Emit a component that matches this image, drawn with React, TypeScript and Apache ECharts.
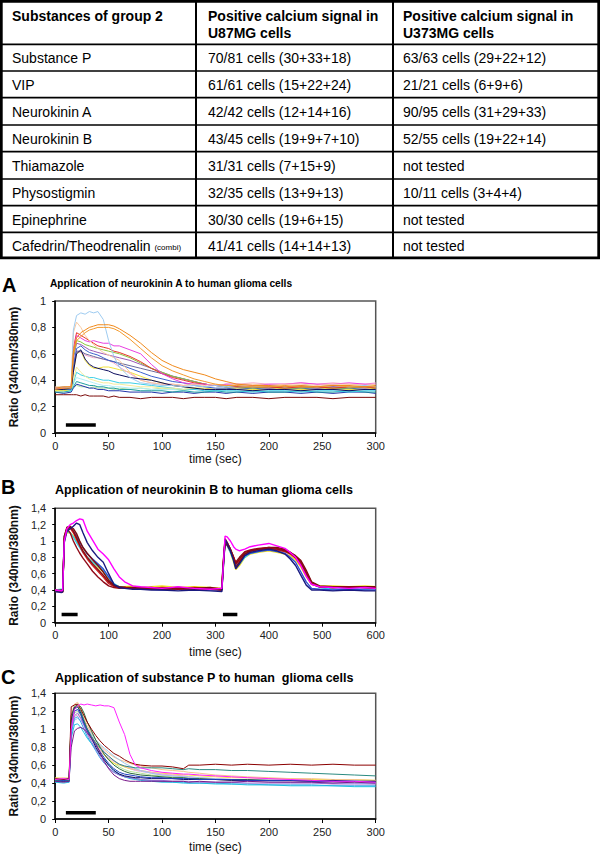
import React, { useEffect, useRef } from "react";
import * as echarts from "echarts";

const FONT = '"Liberation Sans", Arial, Helvetica, sans-serif';

// ---------- Table data ----------
const TABLE_HEAD_1 = ["Substances of group 2", "Positive calcium signal in", "Positive calcium signal in"];
const TABLE_HEAD_2 = ["", "U87MG cells", "U373MG cells"];
const SUBSTANCES = ["Substance P", "VIP", "Neurokinin A", "Neurokinin B", "Thiamazole", "Physostigmin", "Epinephrine", "Cafedrin/Theodrenalin"];
const SUBSTANCE_NOTE = ["", "", "", "", "", "", "", "(combi)"];
const U87MG = ["70/81 cells (30+33+18)", "61/61 cells (15+22+24)", "42/42 cells (12+14+16)", "43/45 cells (19+9+7+10)", "31/31 cells (7+15+9)", "32/35 cells (13+9+13)", "30/30 cells (19+6+15)", "41/41 cells (14+14+13)"];
const U373MG = ["63/63 cells (29+22+12)", "21/21 cells (6+9+6)", "90/95 cells (31+29+33)", "52/55 cells (19+22+14)", "not tested", "10/11 cells (3+4+4)", "not tested", "not tested"];

// ---------- Panel titles ----------
const PANEL_LETTERS = ["A", "B", "C"];
const PANEL_TITLES = [
  "Application of neurokinin A to human glioma cells",
  "Application of neurokinin B to human glioma cells",
  "Application of substance P to human  glioma cells",
];
const X_NAME = "time (sec)";
const Y_NAME = "Ratio (340nm/380nm)";

// ---------- Panel A: neurokinin A ----------
const TIME_A = [0, 8, 15, 17, 20, 24, 28, 32, 36, 40, 45, 50, 55, 60, 70, 80, 90, 100, 110, 120, 130, 140, 150, 160, 170, 185, 200, 215, 230, 245, 260, 275, 290, 300];
const A_LIGHTBLUE = [0.34, 0.35, 0.34, 0.78, 0.89, 0.91, 0.90, 0.92, 0.91, 0.92, 0.86, 0.70, 0.58, 0.50, 0.42, 0.38, 0.37, 0.36, 0.36, 0.35, 0.36, 0.35, 0.36, 0.35, 0.36, 0.35, 0.36, 0.35, 0.36, 0.35, 0.36, 0.35, 0.36, 0.35];
const A_ORANGE1 = [0.34, 0.35, 0.35, 0.62, 0.72, 0.76, 0.78, 0.80, 0.81, 0.82, 0.82, 0.82, 0.81, 0.79, 0.74, 0.68, 0.61, 0.55, 0.51, 0.48, 0.46, 0.44, 0.41, 0.39, 0.37, 0.36, 0.36, 0.35, 0.36, 0.35, 0.36, 0.36, 0.35, 0.36];
const A_ORANGE2 = [0.33, 0.34, 0.34, 0.60, 0.70, 0.73, 0.76, 0.78, 0.79, 0.80, 0.80, 0.80, 0.79, 0.77, 0.71, 0.64, 0.57, 0.51, 0.47, 0.44, 0.41, 0.39, 0.37, 0.36, 0.36, 0.35, 0.35, 0.36, 0.35, 0.35, 0.36, 0.35, 0.35, 0.35];
const A_PEACH = [0.35, 0.35, 0.35, 0.76, 0.84, 0.80, 0.74, 0.70, 0.67, 0.64, 0.61, 0.59, 0.57, 0.55, 0.46, 0.40, 0.38, 0.37, 0.37, 0.36, 0.37, 0.36, 0.37, 0.36, 0.37, 0.37, 0.36, 0.37, 0.37, 0.36, 0.37, 0.37, 0.36, 0.37];
const A_MAGENTA = [0.34, 0.34, 0.35, 0.62, 0.74, 0.72, 0.70, 0.69, 0.70, 0.69, 0.68, 0.68, 0.66, 0.66, 0.63, 0.60, 0.52, 0.45, 0.41, 0.38, 0.37, 0.37, 0.36, 0.37, 0.37, 0.36, 0.37, 0.37, 0.38, 0.37, 0.37, 0.38, 0.37, 0.37];
const A_RED = [0.34, 0.34, 0.35, 0.64, 0.76, 0.74, 0.72, 0.70, 0.68, 0.66, 0.65, 0.64, 0.62, 0.61, 0.58, 0.54, 0.49, 0.45, 0.42, 0.40, 0.38, 0.37, 0.36, 0.36, 0.35, 0.35, 0.35, 0.34, 0.35, 0.35, 0.34, 0.35, 0.35, 0.34];
const A_GREEN = [0.33, 0.33, 0.34, 0.58, 0.70, 0.69, 0.67, 0.66, 0.65, 0.64, 0.63, 0.62, 0.61, 0.60, 0.57, 0.53, 0.49, 0.46, 0.43, 0.41, 0.39, 0.37, 0.36, 0.35, 0.35, 0.34, 0.35, 0.34, 0.34, 0.35, 0.34, 0.34, 0.35, 0.34];
const A_VIOLET = [0.33, 0.34, 0.34, 0.56, 0.68, 0.67, 0.65, 0.63, 0.62, 0.61, 0.60, 0.59, 0.58, 0.57, 0.55, 0.52, 0.49, 0.46, 0.43, 0.41, 0.39, 0.37, 0.36, 0.35, 0.35, 0.35, 0.34, 0.35, 0.35, 0.34, 0.35, 0.35, 0.34, 0.35];
const A_BLUE = [0.33, 0.33, 0.33, 0.50, 0.64, 0.66, 0.63, 0.61, 0.60, 0.59, 0.57, 0.55, 0.54, 0.52, 0.49, 0.46, 0.43, 0.41, 0.39, 0.38, 0.36, 0.35, 0.34, 0.34, 0.33, 0.34, 0.33, 0.33, 0.34, 0.33, 0.33, 0.34, 0.33, 0.33];
const A_SLATE = [0.33, 0.33, 0.34, 0.50, 0.62, 0.62, 0.60, 0.59, 0.58, 0.57, 0.56, 0.55, 0.54, 0.53, 0.51, 0.49, 0.47, 0.45, 0.43, 0.41, 0.39, 0.37, 0.36, 0.35, 0.35, 0.35, 0.34, 0.35, 0.35, 0.34, 0.35, 0.34, 0.35, 0.35];
const A_PINK = [0.34, 0.35, 0.35, 0.52, 0.62, 0.61, 0.59, 0.58, 0.57, 0.57, 0.56, 0.55, 0.53, 0.50, 0.45, 0.40, 0.38, 0.37, 0.37, 0.36, 0.37, 0.37, 0.36, 0.37, 0.37, 0.38, 0.37, 0.37, 0.38, 0.37, 0.38, 0.37, 0.37, 0.38];
const A_YELLOW = [0.32, 0.32, 0.33, 0.46, 0.60, 0.62, 0.55, 0.51, 0.49, 0.49, 0.50, 0.50, 0.49, 0.48, 0.46, 0.43, 0.40, 0.38, 0.36, 0.35, 0.34, 0.34, 0.33, 0.33, 0.34, 0.33, 0.33, 0.34, 0.33, 0.33, 0.34, 0.33, 0.33, 0.34];
const A_NAVY = [0.33, 0.33, 0.34, 0.46, 0.60, 0.63, 0.56, 0.52, 0.50, 0.49, 0.48, 0.47, 0.45, 0.44, 0.42, 0.41, 0.40, 0.38, 0.36, 0.35, 0.34, 0.33, 0.33, 0.33, 0.33, 0.32, 0.33, 0.33, 0.32, 0.33, 0.33, 0.32, 0.33, 0.33];
const A_LIGHTYELLOW = [0.32, 0.33, 0.33, 0.40, 0.50, 0.46, 0.43, 0.41, 0.40, 0.39, 0.38, 0.38, 0.37, 0.37, 0.36, 0.35, 0.35, 0.34, 0.34, 0.33, 0.34, 0.33, 0.33, 0.34, 0.33, 0.33, 0.34, 0.33, 0.33, 0.34, 0.33, 0.33, 0.34, 0.33];
const A_CYAN = [0.32, 0.32, 0.32, 0.38, 0.46, 0.44, 0.43, 0.42, 0.42, 0.41, 0.40, 0.40, 0.39, 0.38, 0.38, 0.37, 0.36, 0.35, 0.34, 0.33, 0.33, 0.32, 0.32, 0.32, 0.32, 0.31, 0.32, 0.32, 0.31, 0.32, 0.32, 0.31, 0.32, 0.32];
const A_LIGHTCYAN = [0.32, 0.33, 0.33, 0.37, 0.42, 0.41, 0.40, 0.39, 0.38, 0.37, 0.36, 0.36, 0.35, 0.35, 0.34, 0.34, 0.33, 0.33, 0.33, 0.32, 0.33, 0.33, 0.32, 0.33, 0.33, 0.32, 0.33, 0.33, 0.32, 0.33, 0.33, 0.32, 0.33, 0.33];
const A_TEAL = [0.31, 0.31, 0.32, 0.35, 0.39, 0.38, 0.37, 0.36, 0.36, 0.35, 0.35, 0.34, 0.34, 0.33, 0.33, 0.32, 0.32, 0.32, 0.31, 0.32, 0.31, 0.31, 0.32, 0.31, 0.31, 0.32, 0.31, 0.31, 0.32, 0.31, 0.31, 0.32, 0.31, 0.31];
const A_DARKBLUE = [0.31, 0.30, 0.31, 0.34, 0.37, 0.36, 0.35, 0.34, 0.34, 0.33, 0.33, 0.32, 0.32, 0.32, 0.31, 0.31, 0.31, 0.30, 0.31, 0.31, 0.30, 0.31, 0.31, 0.30, 0.31, 0.30, 0.31, 0.31, 0.30, 0.31, 0.30, 0.31, 0.31, 0.30];
const A_LIGHTGREEN = [0.33, 0.34, 0.33, 0.35, 0.36, 0.35, 0.35, 0.34, 0.35, 0.34, 0.34, 0.34, 0.33, 0.34, 0.33, 0.34, 0.33, 0.34, 0.33, 0.33, 0.34, 0.33, 0.33, 0.34, 0.33, 0.34, 0.33, 0.33, 0.34, 0.33, 0.34, 0.33, 0.33, 0.34];
const A_MAROON = [0.29, 0.29, 0.29, 0.29, 0.29, 0.28, 0.29, 0.28, 0.28, 0.28, 0.28, 0.27, 0.28, 0.27, 0.27, 0.26, 0.27, 0.27, 0.27, 0.26, 0.27, 0.27, 0.27, 0.26, 0.27, 0.27, 0.26, 0.27, 0.27, 0.27, 0.26, 0.27, 0.27, 0.27];
const APPLY_A = [10, 38];
const APPLY_A_LEVEL = 0.06;

// ---------- Panel B: neurokinin B ----------
const TIME_B = [0, 12, 14, 17, 22, 28, 34, 40, 46, 52, 60, 70, 80, 90, 100, 110, 120, 130, 145, 160, 180, 200, 230, 260, 290, 312, 314, 318, 322, 328, 334, 338, 345, 355, 365, 380, 400, 415, 430, 440, 450, 460, 470, 480, 495, 520, 550, 580, 600];
const B_MAGENTA = [0.40, 0.39, 0.40, 1.00, 1.15, 1.20, 1.22, 1.25, 1.27, 1.26, 1.12, 1.01, 0.90, 0.84, 0.77, 0.66, 0.56, 0.50, 0.45, 0.44, 0.43, 0.42, 0.44, 0.42, 0.41, 0.42, 0.62, 1.06, 1.05, 1.00, 0.93, 0.90, 0.88, 0.90, 0.93, 0.95, 0.97, 0.94, 0.91, 0.86, 0.80, 0.70, 0.57, 0.47, 0.44, 0.43, 0.42, 0.43, 0.42];
const B_NAVY = [0.38, 0.37, 0.38, 0.98, 1.12, 1.15, 1.18, 1.22, 1.20, 1.10, 0.98, 0.88, 0.80, 0.74, 0.60, 0.47, 0.43, 0.42, 0.41, 0.41, 0.40, 0.40, 0.39, 0.40, 0.39, 0.38, 0.60, 1.02, 0.97, 0.88, 0.76, 0.66, 0.72, 0.82, 0.86, 0.88, 0.90, 0.88, 0.84, 0.78, 0.70, 0.58, 0.46, 0.40, 0.40, 0.39, 0.40, 0.39, 0.39];
const B_YELLOW = [0.38, 0.39, 0.38, 1.04, 1.10, 1.10, 1.06, 1.00, 0.94, 0.88, 0.80, 0.74, 0.68, 0.62, 0.54, 0.47, 0.44, 0.44, 0.45, 0.43, 0.44, 0.45, 0.43, 0.44, 0.43, 0.42, 0.58, 1.00, 0.95, 0.86, 0.74, 0.65, 0.70, 0.80, 0.84, 0.86, 0.88, 0.86, 0.84, 0.82, 0.77, 0.68, 0.56, 0.47, 0.45, 0.45, 0.44, 0.45, 0.44];
const B_CYAN = [0.40, 0.41, 0.40, 1.06, 1.12, 1.10, 1.05, 0.98, 0.92, 0.86, 0.80, 0.74, 0.69, 0.64, 0.56, 0.48, 0.44, 0.43, 0.42, 0.42, 0.41, 0.42, 0.41, 0.42, 0.41, 0.41, 0.60, 0.98, 0.94, 0.86, 0.76, 0.68, 0.72, 0.80, 0.85, 0.87, 0.90, 0.88, 0.87, 0.85, 0.81, 0.72, 0.60, 0.48, 0.43, 0.41, 0.42, 0.41, 0.42];
const B_BLUE = [0.39, 0.38, 0.39, 1.02, 1.14, 1.16, 1.12, 1.06, 0.98, 0.92, 0.84, 0.78, 0.72, 0.66, 0.56, 0.46, 0.43, 0.42, 0.42, 0.41, 0.41, 0.40, 0.41, 0.40, 0.40, 0.40, 0.62, 1.00, 0.96, 0.88, 0.78, 0.70, 0.74, 0.82, 0.85, 0.87, 0.89, 0.87, 0.85, 0.80, 0.74, 0.62, 0.50, 0.42, 0.41, 0.40, 0.41, 0.40, 0.40];
const B_RED = [0.40, 0.39, 0.40, 1.05, 1.16, 1.16, 1.10, 1.02, 0.94, 0.86, 0.78, 0.70, 0.63, 0.56, 0.48, 0.44, 0.43, 0.43, 0.42, 0.43, 0.42, 0.43, 0.42, 0.43, 0.42, 0.42, 0.64, 1.03, 0.98, 0.90, 0.80, 0.72, 0.76, 0.84, 0.87, 0.89, 0.91, 0.89, 0.87, 0.84, 0.79, 0.70, 0.58, 0.47, 0.44, 0.43, 0.44, 0.43, 0.43];
const B_MAROON1 = [0.40, 0.38, 0.38, 1.02, 1.15, 1.17, 1.12, 1.04, 0.95, 0.88, 0.80, 0.72, 0.65, 0.58, 0.50, 0.45, 0.43, 0.43, 0.42, 0.42, 0.42, 0.41, 0.42, 0.41, 0.42, 0.40, 0.70, 1.02, 0.98, 0.90, 0.80, 0.72, 0.78, 0.86, 0.88, 0.90, 0.91, 0.90, 0.88, 0.85, 0.80, 0.72, 0.60, 0.48, 0.44, 0.43, 0.44, 0.43, 0.43];
const B_MAROON2 = [0.39, 0.40, 0.38, 1.06, 1.17, 1.18, 1.15, 1.09, 1.00, 0.92, 0.85, 0.77, 0.70, 0.62, 0.52, 0.46, 0.44, 0.43, 0.43, 0.42, 0.43, 0.42, 0.43, 0.42, 0.43, 0.41, 0.66, 0.96, 0.95, 0.88, 0.78, 0.68, 0.74, 0.84, 0.88, 0.90, 0.92, 0.92, 0.90, 0.86, 0.82, 0.76, 0.64, 0.50, 0.45, 0.44, 0.43, 0.44, 0.44];
const B_MAROON3 = [0.38, 0.38, 0.37, 1.00, 1.15, 1.10, 1.00, 0.92, 0.85, 0.79, 0.72, 0.63, 0.56, 0.50, 0.45, 0.43, 0.42, 0.43, 0.42, 0.42, 0.41, 0.42, 0.41, 0.42, 0.41, 0.40, 0.68, 1.00, 0.97, 0.90, 0.80, 0.74, 0.80, 0.87, 0.89, 0.91, 0.92, 0.91, 0.89, 0.86, 0.81, 0.74, 0.62, 0.49, 0.44, 0.43, 0.44, 0.43, 0.42];
const APPLY_B1 = [12, 42];
const APPLY_B2 = [314, 341];
const APPLY_B_LEVEL = 0.1;

// ---------- Panel C: substance P ----------
const TIME_C = [0, 8, 13, 15, 18, 21, 24, 27, 30, 34, 38, 42, 46, 50, 55, 60, 65, 70, 75, 80, 90, 100, 110, 120, 125, 135, 150, 165, 180, 200, 220, 240, 260, 280, 300];
const C_MAGENTA = [0.44, 0.45, 0.44, 1.00, 1.22, 1.26, 1.28, 1.27, 1.28, 1.27, 1.26, 1.27, 1.26, 1.26, 1.24, 1.08, 0.94, 0.72, 0.60, 0.57, 0.54, 0.52, 0.51, 0.50, 0.50, 0.49, 0.48, 0.47, 0.46, 0.45, 0.44, 0.43, 0.42, 0.42, 0.41];
const C_MAROON = [0.45, 0.44, 0.45, 1.25, 1.27, 1.28, 1.22, 1.15, 1.08, 1.00, 0.93, 0.87, 0.82, 0.78, 0.73, 0.70, 0.66, 0.63, 0.61, 0.60, 0.59, 0.59, 0.58, 0.56, 0.60, 0.60, 0.61, 0.60, 0.61, 0.60, 0.61, 0.60, 0.61, 0.60, 0.60];
const C_TEAL = [0.43, 0.44, 0.43, 1.05, 1.22, 1.25, 1.20, 1.10, 1.00, 0.92, 0.85, 0.79, 0.74, 0.70, 0.65, 0.61, 0.59, 0.58, 0.57, 0.57, 0.57, 0.57, 0.56, 0.55, 0.56, 0.55, 0.55, 0.54, 0.54, 0.53, 0.52, 0.51, 0.50, 0.49, 0.48];
const C_PURPLE = [0.42, 0.41, 0.42, 0.80, 0.98, 1.01, 1.02, 1.00, 0.96, 0.90, 0.84, 0.74, 0.64, 0.56, 0.49, 0.45, 0.43, 0.42, 0.42, 0.42, 0.42, 0.42, 0.42, 0.42, 0.41, 0.42, 0.41, 0.41, 0.42, 0.41, 0.41, 0.41, 0.40, 0.41, 0.40];
const C_BLUE = [0.42, 0.43, 0.42, 1.05, 1.20, 1.22, 1.16, 1.06, 0.98, 0.90, 0.82, 0.75, 0.68, 0.62, 0.56, 0.52, 0.50, 0.49, 0.48, 0.47, 0.46, 0.46, 0.45, 0.45, 0.45, 0.44, 0.44, 0.44, 0.43, 0.43, 0.43, 0.42, 0.42, 0.42, 0.41];
const C_NAVY = [0.43, 0.42, 0.43, 1.10, 1.24, 1.25, 1.18, 1.08, 1.00, 0.90, 0.80, 0.72, 0.66, 0.60, 0.54, 0.50, 0.48, 0.47, 0.46, 0.46, 0.45, 0.45, 0.45, 0.44, 0.44, 0.44, 0.44, 0.43, 0.43, 0.43, 0.43, 0.42, 0.43, 0.42, 0.42];
const C_DARKGREEN = [0.44, 0.44, 0.45, 1.15, 1.25, 1.27, 1.25, 1.18, 1.08, 0.98, 0.88, 0.80, 0.72, 0.66, 0.60, 0.56, 0.53, 0.51, 0.50, 0.49, 0.48, 0.47, 0.46, 0.46, 0.45, 0.45, 0.44, 0.44, 0.44, 0.43, 0.43, 0.43, 0.42, 0.42, 0.42];
const C_CYAN = [0.41, 0.40, 0.41, 0.90, 1.05, 1.06, 1.02, 0.96, 0.90, 0.84, 0.78, 0.72, 0.66, 0.60, 0.54, 0.50, 0.47, 0.45, 0.44, 0.43, 0.42, 0.41, 0.41, 0.40, 0.40, 0.40, 0.39, 0.39, 0.38, 0.38, 0.37, 0.37, 0.37, 0.36, 0.36];
const C_LIGHTBLUE = [0.43, 0.44, 0.43, 0.95, 1.10, 1.12, 1.10, 1.05, 1.00, 0.94, 0.88, 0.83, 0.79, 0.75, 0.70, 0.66, 0.62, 0.59, 0.56, 0.54, 0.51, 0.49, 0.48, 0.47, 0.47, 0.46, 0.45, 0.44, 0.43, 0.42, 0.41, 0.41, 0.40, 0.40, 0.39];
const C_PEACH = [0.45, 0.46, 0.45, 1.15, 1.28, 1.30, 1.24, 1.14, 1.04, 0.96, 0.88, 0.82, 0.77, 0.73, 0.69, 0.66, 0.64, 0.62, 0.60, 0.59, 0.57, 0.55, 0.54, 0.53, 0.52, 0.51, 0.49, 0.48, 0.47, 0.46, 0.45, 0.45, 0.44, 0.44, 0.43];
const C_PINK = [0.44, 0.45, 0.44, 1.00, 1.14, 1.16, 1.12, 1.04, 0.96, 0.88, 0.82, 0.77, 0.72, 0.68, 0.64, 0.61, 0.59, 0.57, 0.55, 0.54, 0.52, 0.50, 0.49, 0.48, 0.47, 0.46, 0.45, 0.44, 0.43, 0.42, 0.42, 0.41, 0.41, 0.40, 0.40];
const C_YELLOW = [0.46, 0.45, 0.46, 1.10, 1.24, 1.26, 1.20, 1.10, 1.00, 0.92, 0.84, 0.77, 0.71, 0.66, 0.62, 0.60, 0.58, 0.56, 0.55, 0.54, 0.52, 0.51, 0.50, 0.49, 0.49, 0.48, 0.47, 0.46, 0.46, 0.45, 0.45, 0.44, 0.44, 0.44, 0.43];
const C_LIGHTGREEN = [0.44, 0.43, 0.44, 1.05, 1.18, 1.20, 1.15, 1.06, 0.98, 0.90, 0.83, 0.77, 0.72, 0.67, 0.62, 0.58, 0.55, 0.53, 0.52, 0.51, 0.49, 0.48, 0.47, 0.46, 0.46, 0.45, 0.44, 0.43, 0.43, 0.42, 0.42, 0.42, 0.41, 0.41, 0.41];
const C_VIOLET = [0.42, 0.43, 0.42, 1.00, 1.15, 1.18, 1.12, 1.04, 0.95, 0.86, 0.78, 0.70, 0.63, 0.57, 0.52, 0.49, 0.47, 0.46, 0.45, 0.44, 0.43, 0.43, 0.42, 0.42, 0.42, 0.41, 0.41, 0.41, 0.40, 0.40, 0.40, 0.40, 0.39, 0.39, 0.39];
const C_LAVENDER = [0.45, 0.44, 0.45, 1.05, 1.20, 1.22, 1.18, 1.10, 1.02, 0.95, 0.88, 0.81, 0.75, 0.70, 0.65, 0.61, 0.58, 0.56, 0.54, 0.53, 0.51, 0.49, 0.48, 0.47, 0.46, 0.45, 0.44, 0.43, 0.42, 0.42, 0.41, 0.41, 0.40, 0.40, 0.40];
const C_SKY = [0.41, 0.42, 0.41, 0.95, 1.12, 1.14, 1.08, 1.00, 0.92, 0.84, 0.76, 0.68, 0.62, 0.57, 0.52, 0.49, 0.47, 0.46, 0.45, 0.44, 0.43, 0.42, 0.41, 0.41, 0.40, 0.40, 0.40, 0.39, 0.39, 0.38, 0.38, 0.38, 0.37, 0.37, 0.37];
const APPLY_C = [10, 38];
const APPLY_C_LEVEL = 0.07;

// ---------- Axis ranges ----------
const X_MAX = [300, 600, 300];
const X_STEP = [50, 100, 50];
const Y_MAX = [1, 1.4, 1.4];
const Y_STEP = [0.2, 0.2, 0.2];

// ---------- Styles (kept separate from data) ----------
const SERIES_A: [number[], string][] = [
  [A_LIGHTGREEN, "#b5e3a0"], [A_LIGHTCYAN, "#b0eef5"], [A_DARKBLUE, "#2233aa"], [A_TEAL, "#1f9e9e"],
  [A_CYAN, "#3fd0e6"], [A_LIGHTYELLOW, "#f3ec9a"], [A_YELLOW, "#f2e23c"], [A_PINK, "#f4a6c8"],
  [A_SLATE, "#6a6a9a"], [A_BLUE, "#3a5fcd"], [A_VIOLET, "#9b59b6"], [A_GREEN, "#8cc63f"],
  [A_RED, "#e8352a"], [A_MAGENTA, "#e83fe0"], [A_PEACH, "#f8c9a0"], [A_NAVY, "#0d0d5e"],
  [A_LIGHTBLUE, "#9ecbf0"], [A_ORANGE2, "#f39a2e"], [A_ORANGE1, "#f08a1c"], [A_MAROON, "#7b0a0a"],
];
const SERIES_B: [number[], string][] = [
  [B_YELLOW, "#f0e020"], [B_CYAN, "#30d0f0"], [B_BLUE, "#3050d0"], [B_RED, "#d02020"],
  [B_MAROON1, "#8b0a14"], [B_MAROON2, "#7a0c10"], [B_MAROON3, "#900a18"], [B_NAVY, "#1a1a80"], [B_MAGENTA, "#ff00ff"],
];
const SERIES_C: [number[], string][] = [
  [C_LAVENDER, "#d6a9e6"], [C_LIGHTGREEN, "#b6e39a"], [C_YELLOW, "#f3e24a"], [C_PINK, "#f2a2cf"],
  [C_PEACH, "#f6c48e"], [C_LIGHTBLUE, "#9cc6ee"], [C_SKY, "#3aa0e8"], [C_CYAN, "#20c0e0"],
  [C_VIOLET, "#9b6fd6"], [C_DARKGREEN, "#2b6a3a"], [C_NAVY, "#101060"], [C_BLUE, "#2040c0"],
  [C_PURPLE, "#7a1a8a"], [C_TEAL, "#2a8a80"], [C_MAROON, "#8b0000"], [C_MAGENTA, "#ff20ff"],
];

const GRIDS = [
  { left: 45.3, top: 301, width: 330.4, height: 132 },
  { left: 45.3, top: 508.3, width: 330.4, height: 114.4 },
  { left: 45.3, top: 693.3, width: 330.4, height: 125.7 },
];
const X_NAME_GAP = [20, 23, 22];
const TITLE_POS = [
  { lx: 2, ly: 285, tx: 50, ty: 283.5, size: 10.2 },
  { lx: 1, ly: 487, tx: 55, ty: 490, size: 12.5 },
  { lx: 1, ly: 677, tx: 55, ty: 677.5, size: 12.5 },
];

function fmtY(v: number) {
  const r = Math.round(v * 10) / 10;
  return String(r).replace(".", ",");
}

function lineSeries(time: number[], vals: number[], color: string, idx: number, width: number) {
  return {
    type: "line",
    xAxisIndex: idx,
    yAxisIndex: idx,
    data: time.map((t, i) => [t, vals[i]]),
    showSymbol: false,
    symbol: "none",
    silent: true,
    lineStyle: { color, width },
    itemStyle: { color },
    z: 2,
  };
}

function barSeries(range: number[], level: number, idx: number) {
  return {
    type: "line",
    xAxisIndex: idx,
    yAxisIndex: idx,
    data: [[range[0], level], [range[1], level]],
    showSymbol: false,
    symbol: "none",
    silent: true,
    lineStyle: { color: "#000", width: 3.5, cap: "butt" },
    z: 3,
  };
}

function txt(text: string, x: number, y: number, font: string, align = "left") {
  return {
    type: "text",
    x,
    y,
    silent: true,
    style: {
      text,
      font,
      fill: "#000",
      align,
      textAlign: align,
      verticalAlign: "middle",
      textVerticalAlign: "middle",
    },
  };
}

function buildTable() {
  const els: any[] = [];
  const ROW_LINES = [44.3, 71, 97.7, 125, 151.7, 179, 205.7, 232.3];
  const TOP = 1.35, BOTTOM = 257.9, LEFT = 1.35, RIGHT = 598.65;
  const COL_LINES = [196, 393];
  const COL_X = [12, 208, 403];
  const bold = `bold 14px ${FONT}`;
  const reg = `14px ${FONT}`;
  els.push({
    type: "rect",
    silent: true,
    shape: { x: LEFT, y: TOP, width: RIGHT - LEFT, height: BOTTOM - TOP },
    style: { fill: "#fff", stroke: "#000", lineWidth: 2.7 },
    z: 1,
  });
  ROW_LINES.forEach((y) =>
    els.push({ type: "line", silent: true, shape: { x1: LEFT, y1: y, x2: RIGHT, y2: y }, style: { stroke: "#000", lineWidth: 1.7 }, z: 2 })
  );
  COL_LINES.forEach((x) =>
    els.push({ type: "line", silent: true, shape: { x1: x, y1: TOP, x2: x, y2: BOTTOM }, style: { stroke: "#000", lineWidth: 2 }, z: 2 })
  );
  TABLE_HEAD_1.forEach((t, i) => els.push({ ...txt(t, COL_X[i], 15.5, bold), z: 3 }));
  TABLE_HEAD_2.forEach((t, i) => t && els.push({ ...txt(t, COL_X[i], 32.5, bold), z: 3 }));
  const bounds = [44.3, ...ROW_LINES.slice(1), BOTTOM];
  SUBSTANCES.forEach((name, r) => {
    const cy = (bounds[r] + bounds[r + 1]) / 2 + 0.5;
    const note = SUBSTANCE_NOTE[r];
    if (note) {
      els.push({
        type: "text",
        x: COL_X[0],
        y: cy,
        silent: true,
        z: 3,
        style: {
          text: `{a|${name}} {b|${note}}`,
          font: reg,
          fill: "#000",
          verticalAlign: "middle",
          textVerticalAlign: "middle",
          rich: {
            a: { font: reg, fill: "#000", color: "#000" },
            b: { font: `8px ${FONT}`, fill: "#000", color: "#000", padding: [3, 0, 0, 0] },
          },
        },
      });
    } else {
      els.push({ ...txt(name, COL_X[0], cy, reg), z: 3 });
    }
    els.push({ ...txt(U87MG[r], COL_X[1], cy, reg), z: 3 });
    els.push({ ...txt(U373MG[r], COL_X[2], cy, reg), z: 3 });
  });
  return els;
}

function buildOption() {
  const xAxis = GRIDS.map((_, i) => ({
    type: "value",
    gridIndex: i,
    min: 0,
    max: X_MAX[i],
    interval: X_STEP[i],
    name: X_NAME,
    nameLocation: "middle",
    nameGap: X_NAME_GAP[i],
    nameTextStyle: { fontFamily: FONT, fontSize: 12, color: "#111" },
    axisLine: { show: true, onZero: false, lineStyle: { color: "#000", width: 1.5 } },
    axisTick: { show: true, length: 4, lineStyle: { color: "#000", width: 1 } },
    axisLabel: { fontFamily: FONT, fontSize: 11, color: "#222", margin: 7 },
    splitLine: { show: false },
  }));
  const yAxis = GRIDS.map((_, i) => ({
    type: "value",
    gridIndex: i,
    min: 0,
    max: Y_MAX[i],
    interval: Y_STEP[i],
    name: Y_NAME,
    nameLocation: "middle",
    nameGap: 31,
    nameTextStyle: { fontFamily: FONT, fontSize: 12, fontWeight: "bold", color: "#111" },
    axisLine: { show: true, onZero: false, lineStyle: { color: "#000", width: 1.5 } },
    axisTick: { show: true, length: 3, lineStyle: { color: "#000", width: 1 } },
    axisLabel: { fontFamily: FONT, fontSize: 11, color: "#222", margin: 9, formatter: fmtY },
    splitLine: { show: false },
  }));
  const series: any[] = [];
  SERIES_A.forEach(([v, c]) => series.push(lineSeries(TIME_A, v, c, 0, 1)));
  series.push(barSeries(APPLY_A, APPLY_A_LEVEL, 0));
  SERIES_B.forEach(([v, c]) => series.push(lineSeries(TIME_B, v, c, 1, 1.4)));
  series.push(barSeries(APPLY_B1, APPLY_B_LEVEL, 1));
  series.push(barSeries(APPLY_B2, APPLY_B_LEVEL, 1));
  SERIES_C.forEach(([v, c]) => series.push(lineSeries(TIME_C, v, c, 2, 1)));
  series.push(barSeries(APPLY_C, APPLY_C_LEVEL, 2));

  const graphics: any[] = buildTable();
  PANEL_LETTERS.forEach((l, i) => {
    const p = TITLE_POS[i];
    graphics.push({ ...txt(l, p.lx, p.ly, `bold 20px ${FONT}`), z: 3 });
    graphics.push({ ...txt(PANEL_TITLES[i], p.tx, p.ty, `bold ${p.size}px ${FONT}`), z: 3 });
  });

  return {
    animation: false,
    backgroundColor: "#fff",
    grid: GRIDS.map((g) => ({ ...g, show: true, borderColor: "#555", borderWidth: 1.5, backgroundColor: "transparent" })),
    xAxis,
    yAxis,
    series,
    graphic: { elements: graphics },
  };
}

export default function App() {
  const ref = useRef<HTMLDivElement>(null);
  useEffect(() => {
    if (!ref.current) return;
    const chart = echarts.init(ref.current, null, { renderer: "svg" });
    chart.setOption(buildOption() as any);
    return () => chart.dispose();
  }, []);
  return (
    <div
      ref={ref}
      style={{ position: "absolute", left: 0, top: 0, width: 600, height: 855, background: "#fff" }}
    />
  );
}
